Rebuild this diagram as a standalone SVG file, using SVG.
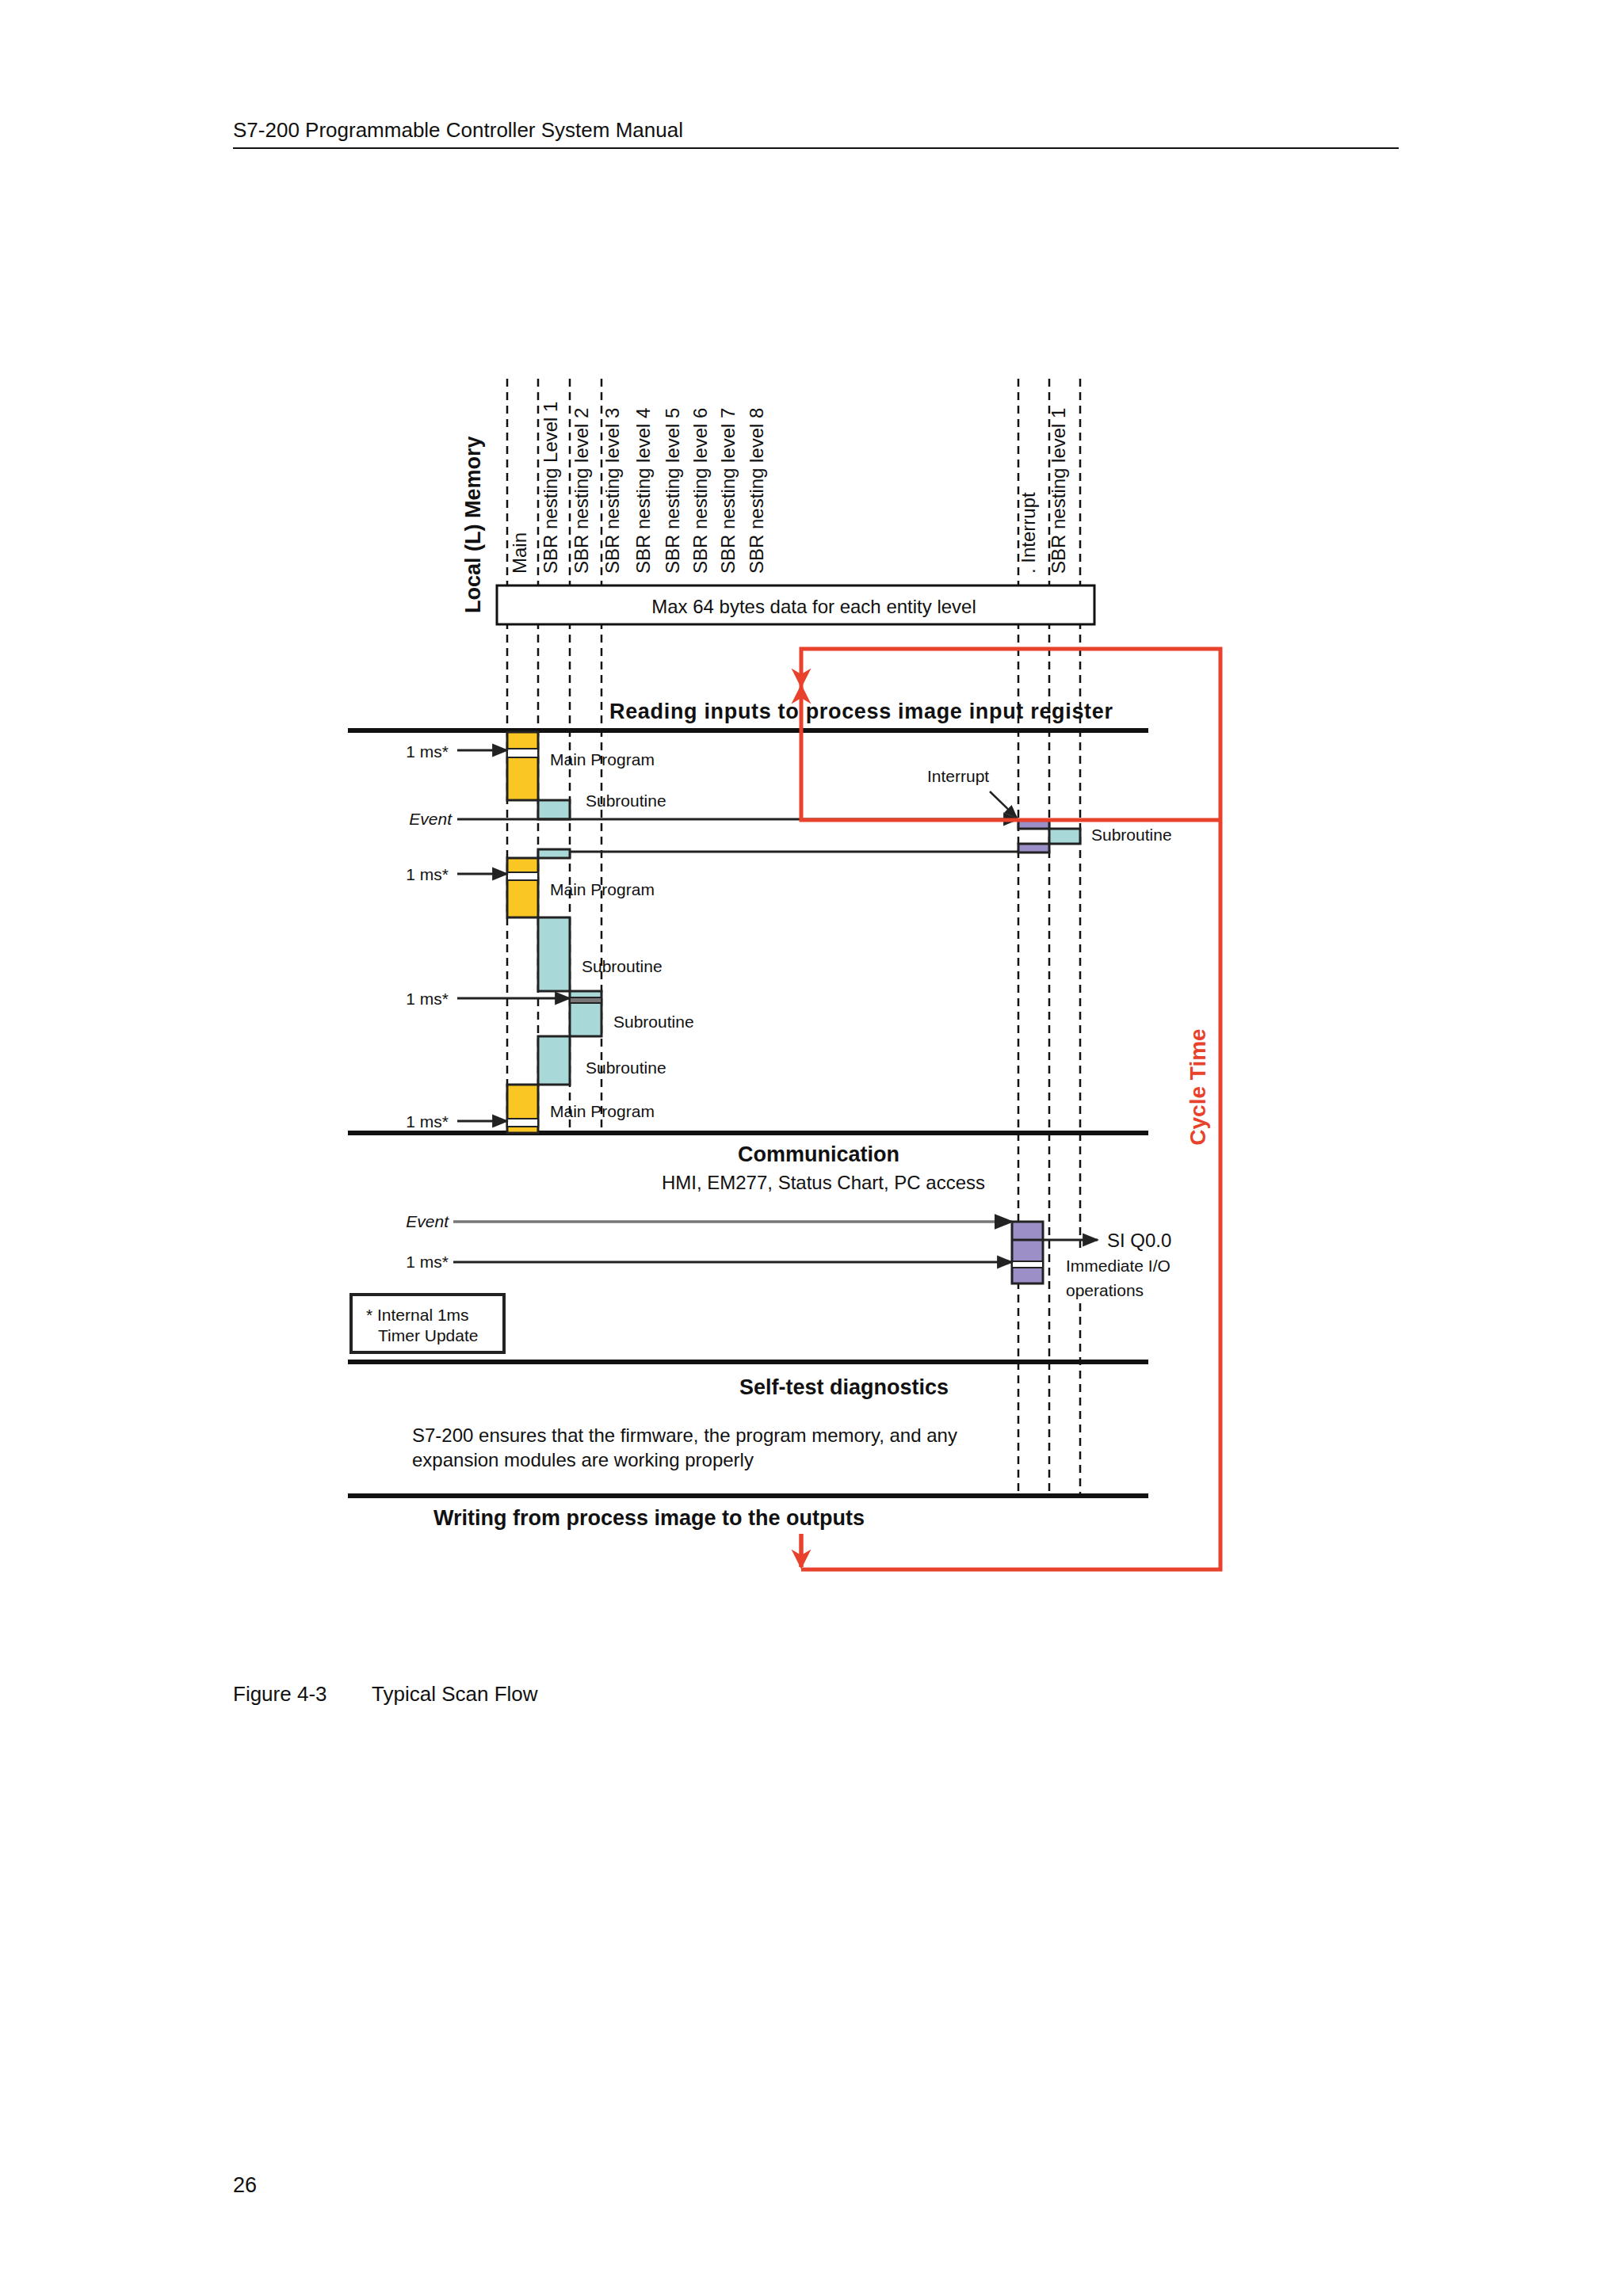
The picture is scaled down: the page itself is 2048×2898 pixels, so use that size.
<svg xmlns="http://www.w3.org/2000/svg" width="2048" height="2898" viewBox="0 0 2048 2898">
<defs>
<marker id="ah" viewBox="0 0 10 10" refX="9" refY="5" markerWidth="7" markerHeight="7" orient="auto"><path d="M0,1 L10,5 L0,9 z" fill="#222"/></marker>
<marker id="rh" viewBox="0 0 10 10" refX="9" refY="5" markerWidth="5" markerHeight="6" orient="auto"><path d="M0,0 L10,5 L0,10 L3,5 z" fill="#E8412C"/></marker>
</defs>
<style>
text{font-family:"Liberation Sans",Arial,sans-serif;fill:#111}
.t{font-size:21px}
.r{font-size:24px}
.h{font-size:27px;font-weight:bold}
.d{stroke:#111;stroke-width:2.5;stroke-dasharray:10 7;fill:none}
.thick{stroke:#111;stroke-width:6}
.y{fill:#F9C623;stroke:#222;stroke-width:3}
.c{fill:#A8D8D8;stroke:#222;stroke-width:3}
.p{fill:#9C8FC8;stroke:#222;stroke-width:3}
.ln{stroke:#222;stroke-width:3;fill:none}
.red{stroke:#E8412C;stroke-width:5;fill:none}
</style>
<rect width="2048" height="2898" fill="#fff"/>
<g id="header">
<text x="294" y="173" font-size="26">S7-200 Programmable Controller System Manual</text>
<line x1="294" y1="187" x2="1765" y2="187" stroke="#111" stroke-width="2"/>
</g>
<g id="lanes">
<line class="d" x1="640" y1="478" x2="640" y2="1430"/>
<line class="d" x1="679" y1="478" x2="679" y2="1430"/>
<line class="d" x1="719" y1="478" x2="719" y2="1430"/>
<line class="d" x1="759" y1="478" x2="759" y2="1430"/>
<line class="d" x1="1285" y1="478" x2="1285" y2="1888"/>
<line class="d" x1="1324" y1="478" x2="1324" y2="1888"/>
<line class="d" x1="1363" y1="478" x2="1363" y2="1575"/>
<line class="d" x1="1363" y1="1645" x2="1363" y2="1888"/>
</g>
<g id="labels">
<text transform="translate(606,774) rotate(-90)" class="h" font-size="28">Local (L) Memory</text>
<text transform="translate(664,724) rotate(-90)" class="r">Main</text>
<text transform="translate(703,724) rotate(-90)" class="r">SBR nesting Level 1</text>
<text transform="translate(742,724) rotate(-90)" class="r">SBR nesting level 2</text>
<text transform="translate(781,724) rotate(-90)" class="r">SBR nesting level 3</text>
<text transform="translate(820,724) rotate(-90)" class="r">SBR nesting level 4</text>
<text transform="translate(857,724) rotate(-90)" class="r">SBR nesting level 5</text>
<text transform="translate(892,724) rotate(-90)" class="r">SBR nesting level 6</text>
<text transform="translate(927,724) rotate(-90)" class="r">SBR nesting level 7</text>
<text transform="translate(963,724) rotate(-90)" class="r">SBR nesting level 8</text>
<text transform="translate(1306,724) rotate(-90)" class="r">. Interrupt</text>
<text transform="translate(1344,724) rotate(-90)" class="r">SBR nesting level 1</text>
</g>
<g id="memory-box">
<rect x="627" y="739" width="754" height="49" fill="#fff" stroke="#111" stroke-width="3"/>
<text x="1027" y="774" class="r" text-anchor="middle">Max 64 bytes data for each entity level</text>
</g>
<g id="sections">
<line class="thick" x1="439" y1="922" x2="1449" y2="922"/>
<line class="thick" x1="439" y1="1430" x2="1449" y2="1430"/>
<line class="thick" x1="439" y1="1719" x2="1449" y2="1719"/>
<line class="thick" x1="439" y1="1888" x2="1449" y2="1888"/>
<text x="769" y="907" class="h" textLength="635">Reading inputs to process image input register</text>
<text x="1033" y="1466" class="h" text-anchor="middle">Communication</text>
<text x="1039" y="1501" class="r" text-anchor="middle">HMI, EM277, Status Chart, PC access</text>
<text x="1065" y="1760" class="h" text-anchor="middle">Self-test diagnostics</text>
<text x="520" y="1820" class="r">S7-200 ensures that the firmware, the program memory, and any</text>
<text x="520" y="1851" class="r">expansion modules are working properly</text>
<text x="547" y="1925" class="h">Writing from process image to the outputs</text>
</g>
<g id="blocks">
<rect class="y" x="640" y="924" width="39" height="86"/>
<rect x="640" y="945" width="39" height="11" fill="#fff" stroke="#222" stroke-width="2"/>
<rect class="c" x="679" y="1010" width="40" height="24"/>
<rect class="p" x="1285" y="1035" width="39" height="11"/>
<rect class="c" x="1324" y="1046" width="39" height="19"/>
<rect class="p" x="1285" y="1065" width="39" height="11"/>
<rect class="c" x="679" y="1072" width="40" height="11"/>
<rect class="y" x="640" y="1083" width="39" height="75"/>
<rect x="640" y="1101" width="39" height="10" fill="#fff" stroke="#222" stroke-width="2"/>
<rect class="c" x="679" y="1158" width="40" height="93"/>
<rect class="c" x="719" y="1251" width="40" height="57"/>
<rect x="719" y="1259" width="40" height="7" fill="#777" stroke="#222" stroke-width="2"/>
<rect class="c" x="679" y="1308" width="40" height="61"/>
<rect class="y" x="640" y="1369" width="39" height="61"/>
<rect x="640" y="1412" width="39" height="10" fill="#fff" stroke="#222" stroke-width="2"/>
<rect class="p" x="1277" y="1542" width="39" height="78"/>
<line class="ln" x1="1277" y1="1565" x2="1316" y2="1565"/>
<rect x="1277" y="1592" width="39" height="8" fill="#fff" stroke="#222" stroke-width="2"/>
<rect x="443" y="1634" width="193" height="73" fill="#fff" stroke="#222" stroke-width="4"/>
<text x="462" y="1667" class="t">* Internal 1ms</text>
<text x="477" y="1693" class="t">Timer Update</text>
</g>
<g id="connectors">
<line class="ln" x1="577" y1="947" x2="640" y2="947" marker-end="url(#ah)"/>
<line class="ln" x1="577" y1="1034" x2="1285" y2="1034" marker-end="url(#ah)"/>
<line class="ln" x1="719" y1="1075" x2="1285" y2="1075"/>
<line class="ln" x1="577" y1="1103" x2="640" y2="1103" marker-end="url(#ah)"/>
<line class="ln" x1="577" y1="1260" x2="719" y2="1260" marker-end="url(#ah)"/>
<line class="ln" x1="577" y1="1415" x2="640" y2="1415" marker-end="url(#ah)"/>
<line x1="1249" y1="999" x2="1283" y2="1032" stroke="#222" stroke-width="2.5" marker-end="url(#ah)"/>
<line x1="572" y1="1542" x2="1277" y2="1542" stroke="#777" stroke-width="3.5" marker-end="url(#ah)"/>
<line class="ln" x1="572" y1="1593" x2="1277" y2="1593" marker-end="url(#ah)"/>
<line class="ln" x1="1316" y1="1565" x2="1385" y2="1565" marker-end="url(#ah)"/>
<path class="red" d="M1540,1035 L1011,1035 L1011,866" transform="translate(0,0)" marker-end="url(#rh)" stroke-linejoin="miter"/>
<path class="red" d="M1540,1035 L1540,819 L1011,819 L1011,866" marker-end="url(#rh)"/>
<path class="red" d="M1011,1936 L1011,1978 M1011,1981 L1540,1981 L1540,1035"/>
<path class="red" d="M1011,1936 L1011,1978" marker-end="url(#rh)"/>
</g>
<g id="annotations">
<text x="566" y="956" class="t" text-anchor="end">1 ms*</text>
<text x="570" y="1041" class="t" text-anchor="end" font-style="italic">Event</text>
<text x="566" y="1111" class="t" text-anchor="end">1 ms*</text>
<text x="566" y="1268" class="t" text-anchor="end">1 ms*</text>
<text x="566" y="1423" class="t" text-anchor="end">1 ms*</text>
<text x="694" y="966" class="t">Main Program</text>
<text x="739" y="1018" class="t">Subroutine</text>
<text x="1170" y="987" class="t">Interrupt</text>
<text x="1377" y="1061" class="t">Subroutine</text>
<text x="694" y="1130" class="t">Main Program</text>
<text x="734" y="1227" class="t">Subroutine</text>
<text x="774" y="1297" class="t">Subroutine</text>
<text x="739" y="1355" class="t">Subroutine</text>
<text x="694" y="1410" class="t">Main Program</text>
<text x="566" y="1549" class="t" text-anchor="end" font-style="italic">Event</text>
<text x="566" y="1600" class="t" text-anchor="end">1 ms*</text>
<text x="1397" y="1574" class="r">SI Q0.0</text>
<text x="1345" y="1605" class="t">Immediate I/O</text>
<text x="1345" y="1636" class="t">operations</text>
<text transform="translate(1521,1372) rotate(-90)" text-anchor="middle" font-size="28" font-weight="bold" style="fill:#E8412C">Cycle Time</text>
</g>
<g id="footer">
<text x="294" y="2147" font-size="26">Figure 4-3</text>
<text x="469" y="2147" font-size="26">Typical Scan Flow</text>
<text x="294" y="2767" font-size="27">26</text>
</g>
</svg>
